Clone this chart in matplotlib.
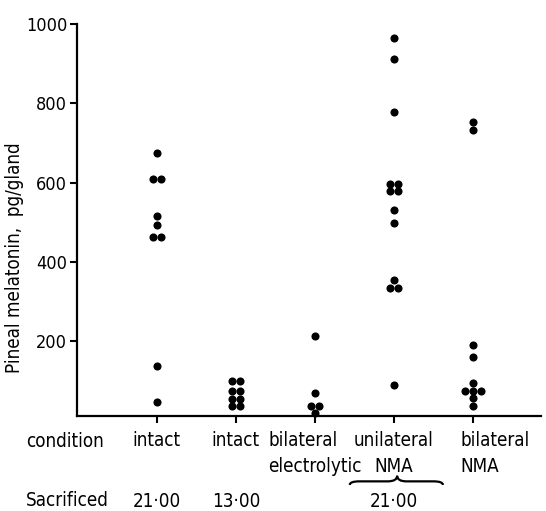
import numpy as np
import matplotlib
matplotlib.use("Agg")
import matplotlib.pyplot as plt
from matplotlib.path import Path
from matplotlib.patches import PathPatch
from matplotlib.transforms import blended_transform_factory, ScaledTranslation

plt.rcParams["font.family"] = ["DejaVu Sans"]
plt.rcParams["font.stretch"] = "condensed"

# data (pg/gland)
conditions = ["intact", "intact", "bilateral\nelectrolytic", "unilateral\nNMA",
              "bilateral\nNMA"]
sacrificed = ["21·00", "13·00", "", "21·00", ""]
intact_2100 = [675, 609, 609, 515, 494, 463, 463, 137, 47]
intact_1300 = [99, 99, 76, 76, 55, 55, 36, 36]
bilat_electrolytic = [214, 70, 38, 38, 20]
unilat_nma = [965, 913, 777, 597, 597, 578, 578, 532, 498, 354, 335, 335, 91]
bilat_nma = [754, 734, 192, 161, 95, 76, 76, 76, 57, 38]
yticks = [200, 400, 600, 800, 1000]

groups = [intact_2100, intact_1300, bilat_electrolytic, unilat_nma, bilat_nma]


def dodge(values, step=0.105):
    """spread identical values side by side"""
    values = np.asarray(values)
    offs = np.zeros(len(values))
    for v in np.unique(values):
        idx = np.where(values == v)[0]
        offs[idx] = (np.arange(len(idx)) - (len(idx) - 1) / 2.0) * step
    return offs


fig = plt.figure(figsize=(5.46, 5.11), dpi=100)
ax = fig.add_axes([77 / 546, 95 / 511, 464 / 546, 392 / 511])

for i, vals in enumerate(groups):
    x = i + 1 + dodge(vals)
    ax.scatter(x, vals, s=34, color="black", linewidths=0, zorder=3,
               clip_on=False)

ax.set_xlim(-0.01, 5.86)
ax.set_ylim(12, 1000)
ax.spines["top"].set_visible(False)
ax.spines["right"].set_visible(False)
for s in ["left", "bottom"]:
    ax.spines[s].set_linewidth(1.6)

ax.set_yticks(yticks)
ax.set_xticks(np.arange(1, len(conditions) + 1))
ax.set_xticklabels(conditions, linespacing=1.45)
ax.tick_params(axis="both", direction="out", length=5, width=1.5,
               labelsize=13)
ax.tick_params(axis="y", pad=2)
ax.tick_params(axis="x", pad=6, labelsize=13.5)

labels = ax.get_xticklabels()
labels[2].set_multialignment("left")
labels[4].set_multialignment("left")
labels[4].set_horizontalalignment("left")
labels[4].set_transform(labels[4].get_transform() +
                        ScaledTranslation(-13 / 100, 0, fig.dpi_scale_trans))

ax.set_ylabel("Pineal melatonin,  pg/gland", fontsize=13.5)
ax.yaxis.set_label_coords(-0.114, 0.403)

fig.text(26 / 546, 0.126, "condition", fontsize=13.5, va="baseline")
fig.text(26 / 546, 0.010, "Sacrificed", fontsize=13.5, va="baseline")

trans = blended_transform_factory(ax.transData, fig.transFigure)
for i, lab in enumerate(sacrificed):
    if lab:
        ax.text(i + 1, 0.008, lab, fontsize=13.5, ha="center",
                va="baseline", transform=trans)

# curly brace grouping the 21:00 operated animals
x0, x1, xc, a = 3.44, 4.62, 4.04, 0.12
y_end, ym, yp = 0.051, 0.058, 0.069
verts = [(x0, y_end), (x0, ym), (x0 + a, ym), (xc - a, ym), (xc, ym), (xc, yp),
         (xc, ym), (xc + a, ym), (x1 - a, ym), (x1, ym), (x1, y_end)]
codes = [Path.MOVETO, Path.CURVE3, Path.CURVE3, Path.LINETO, Path.CURVE3,
         Path.CURVE3, Path.CURVE3, Path.CURVE3, Path.LINETO, Path.CURVE3,
         Path.CURVE3]
brace = PathPatch(Path(verts, codes), facecolor="none", edgecolor="black",
                  lw=1.6, transform=trans, clip_on=False)
ax.add_patch(brace)

fig.savefig("out.png", dpi=100)
